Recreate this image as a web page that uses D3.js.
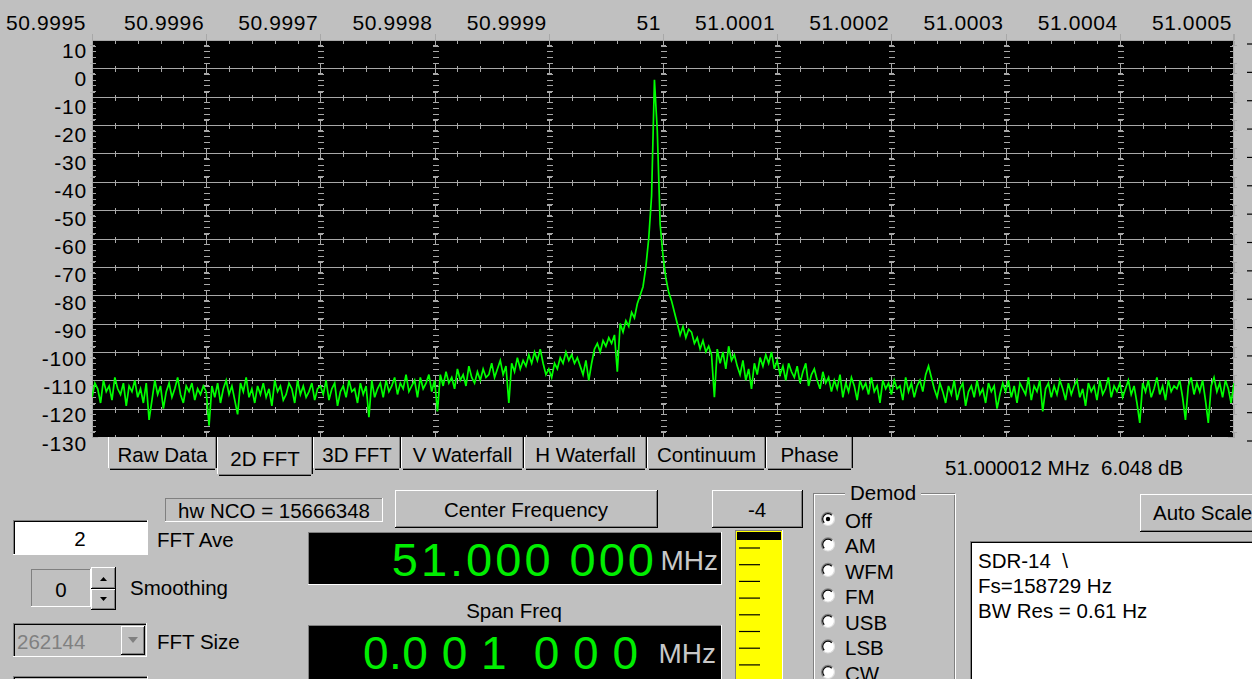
<!DOCTYPE html>
<html>
<head>
<meta charset="utf-8">
<script src="https://cdn.jsdelivr.net/npm/d3@7"></script>
<style>
  html, body { margin: 0; padding: 0; background: #c0c0c0; overflow: hidden; }
  svg { display: block; font-family: "Liberation Sans", Arial, sans-serif; }
  text { white-space: pre; }
</style>
</head>
<body>
<svg id="app" width="1252" height="679"></svg>
<script>
// ---- data ----
const freqTicks = [50.9995, 50.9996, 50.9997, 50.9998, 50.9999, 51.0, 51.0001, 51.0002, 51.0003, 51.0004, 51.0005];
const freqLabels = ['50.9995', '50.9996', '50.9997', '50.9998', '50.9999', '51', '51.0001', '51.0002', '51.0003', '51.0004', '51.0005'];
const dbTicks = [10, 0, -10, -20, -30, -40, -50, -60, -70, -80, -90, -100, -110, -120, -130];

const binStartMHz = 50.9995;
const binStepHz = 2.5;
const spectrumDb = [
  -116,-111,-113,-118,-110,-114,-112,-117,-109,-113,-115,-111,-119,-112,-114,-110,-116,-113,-118,-111,
  -124,-117,-110,-115,-112,-120,-114,-111,-116,-113,-109,-115,-118,-112,-114,-111,-117,-113,-115,-112,
  -114,-126,-112,-116,-111,-118,-113,-110,-115,-112,-117,-122,-111,-114,-109,-116,-113,-118,-112,-115,
  -111,-116,-113,-119,-110,-114,-112,-117,-115,-111,-113,-118,-110,-115,-112,-116,-114,-111,-117,-113,
  -112,-115,-110,-117,-113,-111,-119,-114,-112,-116,-110,-114,-113,-118,-111,-115,-112,-123,-110,-116,
  -113,-111,-116,-110,-114,-112,-109,-115,-111,-113,-108,-114,-112,-110,-116,-109,-113,-111,-108,-114,
  -110,-121,-108,-112,-107,-111,-109,-113,-106,-110,-108,-112,-105,-109,-111,-107,-110,-106,-109,-108,
  -104,-109,-106,-103,-108,-105,-118,-104,-107,-102,-106,-103,-105,-101,-104,-100,-103,-99,-104,-108,
  -106,-109,-104,-106,-102,-104,-100,-103,-101,-104,-102,-105,-108,-103,-110,-104,-99,-97,-100,-96,
  -98,-95,-97,-94,-107,-90,-93,-89,-91,-86,-88,-83,-80,-77,-70,-60,-45,-4,-22,-55,
  -66,-74,-79,-82,-86,-90,-94,-91,-95,-92,-93,-97,-95,-99,-96,-100,-98,-101,-116,-99,
  -104,-100,-106,-98,-103,-101,-105,-108,-103,-110,-106,-113,-104,-108,-102,-105,-101,-104,-100,-106,
  -103,-108,-105,-110,-104,-107,-109,-105,-111,-107,-104,-112,-108,-106,-110,-113,-107,-111,-109,-114,
  -110,-113,-108,-116,-111,-114,-109,-112,-117,-110,-113,-111,-115,-109,-114,-112,-118,-110,-113,-111,
  -115,-110,-113,-112,-117,-109,-114,-111,-116,-112,-110,-114,-108,-105,-109,-113,-116,-111,-114,-118,
  -112,-115,-110,-117,-113,-111,-119,-114,-112,-116,-110,-115,-113,-118,-111,-114,-112,-120,-115,-111,
  -114,-110,-116,-112,-118,-111,-113,-115,-109,-117,-112,-114,-110,-121,-113,-111,-116,-112,-115,-110,
  -113,-117,-111,-115,-112,-110,-116,-113,-119,-111,-114,-112,-117,-110,-115,-113,-109,-116,-112,-114,
  -111,-116,-113,-110,-115,-112,-118,-125,-111,-114,-110,-116,-113,-109,-115,-112,-117,-110,-114,-112,
  -113,-110,-116,-124,-112,-109,-115,-111,-114,-110,-117,-125,-112,-109,-114,-111,-116,-110,-113,-118,
  -111
];

const tabNames = ['Raw Data', '2D FFT', '3D FFT', 'V Waterfall', 'H Waterfall', 'Continuum', 'Phase'];
const tabEdges = [108, 217, 313, 401, 524, 647, 766, 853];
const selectedTab = '2D FFT';
const markerText = '51.000012 MHz  6.048 dB';
const demodModes = ['Off', 'AM', 'WFM', 'FM', 'USB', 'LSB', 'CW'];
const infoLines = ['SDR-14  \\', 'Fs=158729 Hz', 'BW Res = 0.61 Hz'];

const svg = d3.select('#app');
const W = 1252, H = 679;
const plot = { left: 92, right: 1234, top: 40, bottom: 437 };
const gridColor = '#a8a8a8';
const uiFont = 20.5;

svg.append('rect').attr('width', W).attr('height', H).attr('fill', '#c0c0c0');

const x = d3.scaleLinear().domain([freqTicks[0], freqTicks[freqTicks.length - 1]]).range([plot.left, plot.right]);
const y = d3.scaleLinear().domain([10, -130]).range([plot.top, plot.bottom]);
const yLabelPos = d3.scaleLinear().domain([10, -130]).range([50, 443]);

// ---- plot area ----
svg.append('rect')
  .attr('x', plot.left).attr('y', plot.top)
  .attr('width', plot.right - plot.left).attr('height', plot.bottom - plot.top)
  .attr('fill', '#000');

const grid = svg.append('g').attr('stroke', gridColor).attr('stroke-width', 1.2).attr('shape-rendering', 'crispEdges');

const minorX = d3.range(0, 51).map(i => freqTicks[0] + i * 0.00002);
const minorY = d3.range(10, -131, -2);
const majorX = freqTicks;
const isMajorX = (i) => i % 5 === 0;

// horizontal gridlines
grid.selectAll('line.h')
  .data(dbTicks.filter(d => d > -130))
  .join('line')
  .attr('class', 'h')
  .attr('x1', plot.left).attr('x2', plot.right)
  .attr('y1', d => Math.round(y(d)) + 0.5).attr('y2', d => Math.round(y(d)) + 0.5);

// ticks on each horizontal line
dbTicks.forEach(db => {
  const yy = Math.round(y(db)) + 0.5;
  minorX.forEach((f, i) => {
    const xx = Math.round(x(f)) + 0.5;
    if (isMajorX(i)) {
      const y1 = db === 10 ? yy : yy - 5;
      const y2 = db === -130 ? yy : yy + 5;
      grid.append('line').attr('x1', xx).attr('x2', xx).attr('y1', y1).attr('y2', y2);
      if (db !== 10) grid.append('line').attr('x1', xx - 2.5).attr('x2', xx + 2.5).attr('y1', y1).attr('y2', y1);
      if (db !== -130) grid.append('line').attr('x1', xx - 2.5).attr('x2', xx + 2.5).attr('y1', y2).attr('y2', y2);
    } else {
      const y1 = db === 10 ? yy : yy - 3;
      const y2 = db === -130 ? yy : yy + 3;
      grid.append('line').attr('x1', xx).attr('x2', xx).attr('y1', y1).attr('y2', y2);
    }
  });
});

// dashed major verticals (short horizontal dashes every 2 dB)
majorX.slice(1, -1).forEach(f => {
  const xx = Math.round(x(f)) + 0.5;
  minorY.forEach(db => {
    if (db % 10 === 0) return;
    const yy = Math.round(y(db)) + 0.5;
    grid.append('line').attr('x1', xx - 3).attr('x2', xx + 3).attr('y1', yy).attr('y2', yy);
  });
});

// edge rulers
minorY.forEach(db => {
  const len = db % 10 === 0 ? 6 : 4;
  const yy = Math.round(y(db)) + 0.5;
  grid.append('line').attr('x1', plot.left).attr('x2', plot.left + len).attr('y1', yy).attr('y2', yy);
  grid.append('line').attr('x1', plot.right - len).attr('x2', plot.right).attr('y1', yy).attr('y2', yy);
});
grid.append('line').attr('x1', plot.left + 0.5).attr('x2', plot.left + 0.5).attr('y1', plot.top).attr('y2', plot.bottom);
grid.append('line').attr('x1', plot.right - 0.5).attr('x2', plot.right - 0.5).attr('y1', plot.top - 6).attr('y2', plot.bottom);

// major ticks poking above the top edge
majorX.forEach(f => {
  const xx = Math.round(x(f)) + 0.5;
  grid.append('line').attr('x1', xx).attr('x2', xx).attr('y1', plot.top - 6).attr('y2', plot.top);
});

// stubs of a second scale at far right
dbTicks.forEach(db => {
  svg.append('line').attr('x1', 1247).attr('x2', 1252).attr('y1', y(db) + 4).attr('y2', y(db) + 4)
    .attr('stroke', '#000').attr('stroke-width', 1.2);
});

// ---- spectrum ----
svg.append('clipPath').attr('id', 'clip')
  .append('rect').attr('x', plot.left).attr('y', plot.top)
  .attr('width', plot.right - plot.left).attr('height', plot.bottom - plot.top);

const line = d3.line()
  .x((d, i) => x(binStartMHz + i * binStepHz / 1e6))
  .y(d => y(d));

svg.append('path')
  .datum(spectrumDb)
  .attr('clip-path', 'url(#clip)')
  .attr('d', line)
  .attr('fill', 'none')
  .attr('stroke', '#00ff00')
  .attr('stroke-width', 1.7)
  .attr('stroke-linejoin', 'miter');

// ---- axis labels ----
svg.append('g').selectAll('text')
  .data(freqTicks)
  .join('text')
  .attr('x', (d, i) => i === 0 ? 6 : x(d) - 2)
  .attr('y', 22)
  .attr('text-anchor', (d, i) => i === 0 ? 'start' : 'end')
  .attr('dominant-baseline', 'central')
  .attr('font-size', 21)
  .attr('letter-spacing', 0.6)
  .attr('fill', '#000')
  .text((d, i) => freqLabels[i]);

svg.append('g').selectAll('text')
  .data(dbTicks)
  .join('text')
  .attr('x', 87)
  .attr('y', d => yLabelPos(d))
  .attr('text-anchor', 'end')
  .attr('dominant-baseline', 'central')
  .attr('font-size', 21)
  .attr('letter-spacing', 0.8)
  .attr('fill', '#000')
  .text(d => d);

// ---- widgets ----
function hline(g, x1, x2, yy, c) { g.append('line').attr('x1', x1).attr('x2', x2).attr('y1', yy).attr('y2', yy).attr('stroke', c).attr('stroke-width', 1.2); }
function vline(g, xx, y1, y2, c) { g.append('line').attr('x1', xx).attr('x2', xx).attr('y1', y1).attr('y2', y2).attr('stroke', c).attr('stroke-width', 1.2); }

function raised(x0, y0, w, h, fill = '#c0c0c0') {
  const g = svg.append('g').attr('shape-rendering', 'crispEdges');
  g.append('rect').attr('x', x0).attr('y', y0).attr('width', w).attr('height', h).attr('fill', fill);
  hline(g, x0, x0 + w, y0 + 0.5, '#fff');
  vline(g, x0 + 0.5, y0, y0 + h, '#fff');
  hline(g, x0, x0 + w, y0 + h - 0.5, '#000');
  vline(g, x0 + w - 0.5, y0, y0 + h, '#000');
  hline(g, x0 + 1, x0 + w - 1, y0 + h - 1.5, '#808080');
  vline(g, x0 + w - 1.5, y0 + 1, y0 + h - 1, '#808080');
  return g;
}

function sunken(x0, y0, w, h, fill, deep = true) {
  const g = svg.append('g').attr('shape-rendering', 'crispEdges');
  g.append('rect').attr('x', x0).attr('y', y0).attr('width', w).attr('height', h).attr('fill', fill);
  hline(g, x0, x0 + w, y0 + 0.5, '#808080');
  vline(g, x0 + 0.5, y0, y0 + h, '#808080');
  hline(g, x0, x0 + w, y0 + h - 0.5, '#fff');
  vline(g, x0 + w - 0.5, y0, y0 + h, '#fff');
  if (deep) {
    hline(g, x0 + 1, x0 + w - 1, y0 + 1.5, '#000');
    vline(g, x0 + 1.5, y0 + 1, y0 + h - 1, '#000');
  }
  return g;
}

function label(t, xx, yy, opts = {}) {
  return svg.append('text')
    .attr('x', xx).attr('y', yy)
    .attr('text-anchor', opts.anchor || 'start')
    .attr('dominant-baseline', 'central')
    .attr('font-size', opts.size || uiFont)
    .attr('fill', opts.fill || '#000')
    .attr('letter-spacing', opts.ls || 0)
    .text(t);
}

// tabs
tabNames.forEach((name, i) => {
  const x0 = tabEdges[i], x1 = tabEdges[i + 1];
  const sel = name === selectedTab;
  const y0 = plot.bottom, y1 = sel ? 476 : 470;
  const g = svg.append('g').attr('shape-rendering', 'crispEdges');
  g.append('rect').attr('x', x0).attr('y', y0).attr('width', x1 - x0).attr('height', y1 - y0).attr('fill', '#c0c0c0');
  vline(g, x0 + 0.5, y0, y1 - 2, '#fff');
  vline(g, x1 - 0.5, y0, y1 - 2, '#000');
  vline(g, x1 - 1.5, y0, y1 - 2, '#808080');
  hline(g, x0 + 2, x1 - 2, y1 - 0.5, '#000');
  hline(g, x0 + 2, x1 - 2, y1 - 1.5, '#808080');
  label(name, (x0 + x1) / 2, sel ? 458 : 454, { anchor: 'middle' });
});

label(markerText, 945, 467);

// hw NCO box
sunken(165, 498, 218, 24, '#c0c0c0', false);
label('hw NCO = 15666348', 274, 510, { anchor: 'middle' });

// buttons
raised(395, 490, 263, 38);
label('Center Frequency', 526, 509, { anchor: 'middle' });
raised(712, 490, 91, 38);
label('-4', 757, 509, { anchor: 'middle' });
raised(1140, 494, 130, 38);
label('Auto Scale', 1153, 512);

// FFT Ave
sunken(13, 520, 135, 35, '#fff');
label('2', 80, 538, { anchor: 'middle' });
label('FFT Ave', 157, 539);

// Smoothing spinner
sunken(31, 569, 60, 38, '#c0c0c0', false);
label('0', 61, 589, { anchor: 'middle' });
raised(91, 567, 25, 22);
raised(91, 589, 25, 21);
svg.append('path').attr('d', 'M100,581 L107,581 L103.5,577 Z').attr('fill', '#000');
svg.append('path').attr('d', 'M100,597 L107,597 L103.5,601 Z').attr('fill', '#000');
label('Smoothing', 130, 587);

// FFT size dropdown
sunken(13, 623, 134, 34, '#c0c0c0');
label('262144', 17, 641, { fill: '#808080' });
raised(121, 626, 24, 29);
svg.append('path').attr('d', 'M128,637 L138,637 L133,643 Z').attr('fill', '#808080');
label('FFT Size', 157, 641);
sunken(13, 676, 135, 10, '#c0c0c0');

// frequency displays
sunken(308, 532, 414, 53, '#000', false);
label('51.000 000', 657, 559, { anchor: 'end', size: 47, fill: '#00ee00', ls: 3 });
label('MHz', 718, 560, { anchor: 'end', size: 28, fill: '#c8c8c8' });
label('Span Freq', 514, 610, { anchor: 'middle' });
sunken(308, 625, 414, 60, '#000', false);
label('0.0 0 1  0 0 0', 363, 653, { size: 46, fill: '#00ee00', ls: 0.5 });
label('MHz', 716, 653, { anchor: 'end', size: 28, fill: '#c8c8c8' });

// level meter
sunken(735, 530, 48, 160, '#ffff00', false);
svg.append('rect').attr('x', 737).attr('y', 532).attr('width', 44).attr('height', 8).attr('fill', '#000');
d3.range(548, 679, 16.7).forEach(yy => {
  svg.append('line').attr('x1', 739).attr('x2', 760).attr('y1', yy).attr('y2', yy).attr('stroke', '#000').attr('stroke-width', 1.2);
});

// Demod group
const gb = svg.append('g').attr('fill', 'none').attr('shape-rendering', 'crispEdges');
gb.append('rect').attr('x', 813.5).attr('y', 493.5).attr('width', 141).attr('height', 200).attr('stroke', '#808080');
gb.append('rect').attr('x', 814.5).attr('y', 494.5).attr('width', 141).attr('height', 200).attr('stroke', '#fff');
svg.append('rect').attr('x', 845).attr('y', 482).attr('width', 76).attr('height', 20).attr('fill', '#c0c0c0');
label('Demod', 883, 492, { anchor: 'middle' });

demodModes.forEach((m, i) => {
  const cy = 519 + i * 25.5, cx = 828, r = 6.5;
  const k = r * Math.SQRT1_2;
  const g = svg.append('g');
  g.append('circle').attr('cx', cx).attr('cy', cy).attr('r', r).attr('fill', '#fff');
  // top-left shading (outer gray, inner black), bottom-right light
  g.append('path')
    .attr('d', `M${cx - k},${cy + k} A${r},${r} 0 0 1 ${cx + k},${cy - k}`)
    .attr('fill', 'none').attr('stroke', '#808080').attr('stroke-width', 1.3);
  const r2 = r - 1.2, k2 = r2 * Math.SQRT1_2;
  g.append('path')
    .attr('d', `M${cx - k2},${cy + k2} A${r2},${r2} 0 0 1 ${cx + k2},${cy - k2}`)
    .attr('fill', 'none').attr('stroke', '#000').attr('stroke-width', 1.2);
  g.append('path')
    .attr('d', `M${cx + k},${cy - k} A${r},${r} 0 0 1 ${cx - k},${cy + k}`)
    .attr('fill', 'none').attr('stroke', '#dfdfdf').attr('stroke-width', 1.2);
  if (i === 0) g.append('circle').attr('cx', cx).attr('cy', cy).attr('r', 2.2).attr('fill', '#000');
  label(m, 845, cy + 1);
});

// info box
sunken(970, 541, 290, 150, '#fff');
infoLines.forEach((t, i) => label(t, 978, 560 + i * 25));
</script>
</body>
</html>
